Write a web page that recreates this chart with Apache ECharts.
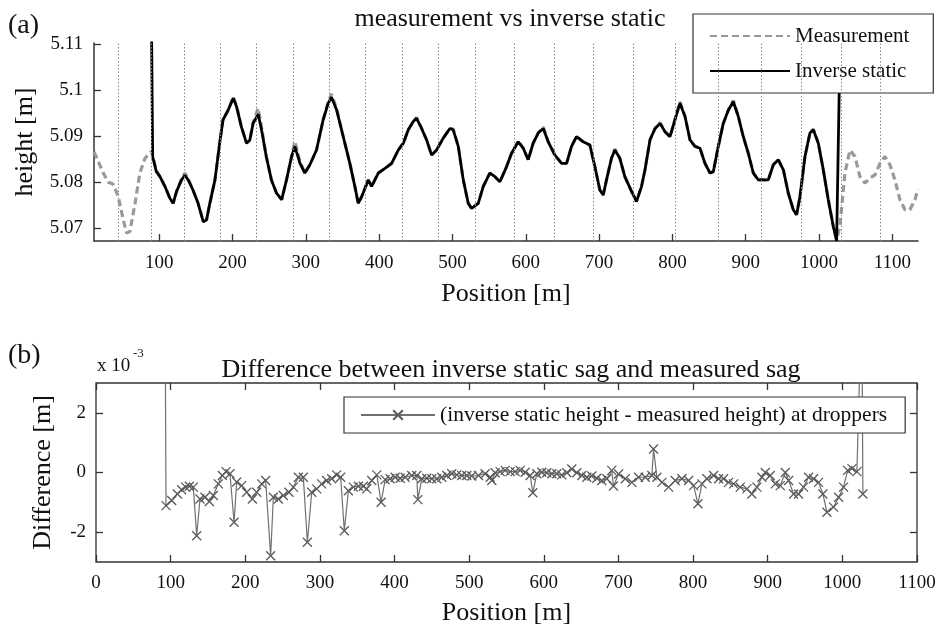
<!DOCTYPE html>
<html>
<head>
<meta charset="utf-8">
<script src="https://cdn.jsdelivr.net/npm/echarts@6/dist/echarts.min.js"></script>
<style>html,body{margin:0;padding:0;background:#fff}#c{width:940px;height:632px}</style>
</head>
<body>
<div id="c"></div>
<script>
// ---------- data (panel a) ----------
const measPos = [11,17,23.6,30.5,37,44,51,55.5,60,67,73.6,80.5,89.5,
96,101,107.7,114.5,119,123.6,130.5,135,139.5,146,153,160,164.5,169,176,183,187,194,201,205.5,212,219,223.6,228,235,239.5,246,253,260,267,273.6,280.5,285,292,298.6,305.5,314.5,323.6,330.5,335,342,351,360,366.8,371.4,376,385,389.7,398.8,407.9,417,426,433,439.7,446.5,451,457.9,464.7,471.5,478.3,487.4,496.5,501,507.9,514.7,521.5,526,535.1,542,551,557.9,564.7,573.8,580.6,589.7,596.5,603.3,610.1,616.9,623.8,630.6,639.7,648.8,655.6,662.4,669.2,678.3,687.4,694.2,701,705.6,710.1,716.9,721.5,728.3,735.1,744.2,751,757.9,762.6,769.4,776.3,783.1,789.9,796.7,803.5,810.3,817.2,824,830.8,837.6,844.4,851.3,855.8,862.6,869.4,876.3,883.1,889.9,896.7,903.5,910.3,917.2,924,930.8,937.6,944.4,951.3,958.1,964.9,969.4,974,980.8,987.6,992.2,999,1005.8,1012.6,1019.4,1024,
1028.5,1035.3,1042.2,1049,1055.8,1062.6,1069.4,1076.3,1083.1,1089.9,1096.7,1103.5,1110.3,1117.2,1124,1130.8,1135];
const measHeight = [5.0866,5.0845,5.0820,5.0800,5.0796,5.0769,5.0718,5.0689,5.0693,5.0754,5.0820,5.0852,5.0867,
5.0826,5.0812,5.0791,5.0765,5.0754,5.0780,5.0808,5.0820,5.0807,5.0783,5.0754,5.0714,5.0718,5.0754,5.0805,5.0892,5.0936,5.0957,5.0986,5.0966,5.0921,5.0885,5.0892,5.0930,5.0961,5.0920,5.0856,5.0805,5.0776,5.0762,5.0805,5.0856,5.0889,5.0845,5.0820,5.0838,5.0870,5.0936,5.0975,5.0992,5.0960,5.0899,5.0841,5.0791,5.0754,5.0768,5.0805,5.0791,5.0820,5.0830,5.0841,5.0870,5.0885,5.0914,5.0932,5.0941,5.0917,5.0892,5.0859,5.0870,5.0896,5.0917,5.0916,5.0878,5.0805,5.0754,5.0743,5.0754,5.0791,5.0820,5.0812,5.0801,5.0834,5.0863,5.0890,5.0874,5.0849,5.0885,5.0907,5.0920,5.0888,5.0859,5.0841,5.0841,5.0878,5.0900,5.0888,5.0881,5.0834,5.0783,5.0772,5.0805,5.0852,5.0872,5.0852,5.0812,5.0780,5.0758,5.0791,5.0827,5.0892,5.0917,5.0930,5.0910,5.0899,5.0936,5.0975,5.0943,5.0892,5.0878,5.0874,5.0841,5.0820,5.0823,5.0878,5.0928,5.0957,5.0978,5.0943,5.0899,5.0863,5.0820,5.0805,5.0805,5.0805,5.0838,5.0849,5.0827,5.0776,5.0740,5.0729,5.0769,5.0856,5.0907,5.0916,5.0885,5.0827,5.0762,5.0704,5.0675,
5.0704,5.0820,5.0870,5.0856,5.0812,5.0798,5.0809,5.0816,5.0841,5.0856,5.0838,5.0805,5.0762,5.0740,5.0740,5.0762,5.0785];

const invPos = [88.6,91,96,101,107.7,114.5,119,123.6,130.5,135,139.5,146,153,160,164.5,169,176,183,187,194,201,205.5,212,219,223.6,228,235,239.5,246,253,260,267,273.6,280.5,285,292,298.6,305.5,314.5,323.6,330.5,335,342,351,360,366.8,371.4,376,385,389.7,398.8,407.9,417,426,433,439.7,446.5,451,457.9,464.7,471.5,478.3,487.4,496.5,501,507.9,514.7,521.5,526,535.1,542,551,557.9,564.7,573.8,580.6,589.7,596.5,603.3,610.1,616.9,623.8,630.6,639.7,648.8,655.6,662.4,669.2,678.3,687.4,694.2,701,705.6,710.1,716.9,721.5,728.3,735.1,744.2,751,757.9,762.6,769.4,776.3,783.1,789.9,796.7,803.5,810.3,817.2,824,830.8,837.6,844.4,851.3,855.8,862.6,869.4,876.3,883.1,889.9,896.7,903.5,910.3,917.2,924,930.8,937.6,944.4,951.3,958.1,964.9,969.4,974,980.8,987.6,992.2,999,1005.8,1012.6,1019.4,1024,1030.8];
const invHeight = [5.13,5.0856,5.0823,5.0812,5.0791,5.0765,5.0754,5.0780,5.0805,5.0815,5.0805,5.0783,5.0754,5.0714,5.0718,5.0754,5.0805,5.0892,5.0936,5.0957,5.0983,5.0964,5.0921,5.0885,5.0892,5.0928,5.0948,5.0914,5.0856,5.0805,5.0776,5.0762,5.0805,5.0856,5.0878,5.0841,5.0820,5.0838,5.0870,5.0936,5.0972,5.0985,5.0957,5.0899,5.0841,5.0791,5.0754,5.0768,5.0805,5.0791,5.0820,5.0830,5.0841,5.0870,5.0885,5.0914,5.0932,5.0939,5.0917,5.0892,5.0859,5.0870,5.0896,5.0917,5.0914,5.0878,5.0805,5.0754,5.0743,5.0754,5.0791,5.0820,5.0812,5.0801,5.0834,5.0863,5.0888,5.0874,5.0849,5.0885,5.0907,5.0917,5.0888,5.0859,5.0841,5.0841,5.0878,5.0899,5.0888,5.0881,5.0834,5.0783,5.0772,5.0805,5.0852,5.0870,5.0852,5.0812,5.0780,5.0758,5.0791,5.0827,5.0892,5.0917,5.0928,5.0910,5.0899,5.0936,5.0972,5.0943,5.0892,5.0878,5.0874,5.0841,5.0820,5.0823,5.0878,5.0928,5.0957,5.0975,5.0943,5.0899,5.0863,5.0820,5.0805,5.0805,5.0805,5.0838,5.0849,5.0827,5.0776,5.0740,5.0729,5.0769,5.0856,5.0907,5.0914,5.0885,5.0827,5.0762,5.0704,5.0672,5.13];

const mastPos = [44,88.6,134,183.6,232.7,282.7,331.4,381.4,431.5,480.6,530.6,583.8,638.3,692,746.5,804.4,862.6,920.8,975.8,1030.8,1083.1];

const topXTicks = [100,200,300,400,500,600,700,800,900,1000,1100];
const topYTicks = [5.07,5.08,5.09,5.1,5.11];

// ---------- data (panel b), difference in 10^-3 m ----------
const dropperPos = [92.5,93.8,101.4,109,114.8,120.1,125,130.4,134.9,139.3,146,151.9,157.2,163.9,169.3,174.2,179.5,185,188.5,195.2,201.9,209.5,215.3,222,227.3,234,237.6,244.3,251,258.6,264.4,271.1,277.8,283.2,289,295.7,302.4,309,315.8,322.5,327.8,332.7,338.1,344.8,351.5,358.2,362.8,369.5,376.2,382,387.4,394,400.8,407.5,414.2,423.1,429.8,431.2,436.5,443.2,449.9,456.6,463.3,470,476.7,483.4,490.1,496.8,503.5,512.5,521.4,528.1,530.3,534.8,541.5,548.2,554.9,561.6,568.3,575,581.7,585.3,590.6,597.3,604,610.7,617.4,624.1,630.8,637.5,644.2,650.9,657.6,664.3,671,677.7,684.4,691,693.3,700.2,709.1,718,727,735.9,744.8,747,751.5,758.2,767.2,776,785,794,800.7,806.5,811.8,818.5,827.5,834.2,840.9,847.5,854.3,863.2,872.1,878.8,885.5,892.2,896.7,903.4,910.1,916.8,923.5,928,934.7,941.3,948,954.7,961.4,968.1,973.9,979.3,988.2,995,1001.6,1007,1012.8,1019.5,1026,1027.5];
const diffValues = [6,-1.11,-0.94,-0.72,-0.58,-0.49,-0.46,-0.49,-2.12,-0.89,-0.83,-0.97,-0.77,-0.38,-0.10,0.03,-0.04,-1.67,-0.32,-0.44,-0.66,-0.89,-0.66,-0.38,-0.27,-2.79,-0.83,-0.89,-0.77,-0.66,-0.49,-0.16,-0.16,-2.34,-0.66,-0.55,-0.38,-0.27,-0.21,-0.08,-0.16,-1.95,-0.61,-0.49,-0.46,-0.46,-0.55,-0.27,-0.08,-1.0,-0.24,-0.21,-0.16,-0.19,-0.16,-0.10,-0.10,-0.91,-0.21,-0.19,-0.21,-0.21,-0.16,-0.10,-0.04,-0.08,-0.10,-0.10,-0.12,-0.10,-0.04,-0.16,-0.27,-0.01,0.03,0.07,0.03,0.03,0.07,0.01,-0.10,-0.68,-0.04,0.01,-0.01,-0.04,-0.04,-0.08,-0.01,0.12,-0.01,-0.10,-0.16,-0.12,-0.19,-0.27,-0.21,0.07,-0.45,-0.05,-0.21,-0.33,-0.16,-0.16,-0.10,0.79,-0.16,-0.33,-0.49,-0.27,-0.21,-0.27,-0.44,-1.05,-0.38,-0.21,-0.10,-0.21,-0.21,-0.33,-0.38,-0.49,-0.55,-0.72,-0.49,-0.16,0.0,-0.10,-0.38,-0.44,0.0,-0.27,-0.72,-0.72,-0.49,-0.16,-0.21,-0.33,-0.72,-1.33,-1.16,-0.83,-0.49,0.07,0.13,0.03,6,-0.72];
const bottomYTicks = [-2,0,2];

// ---------- chart ----------
const FONT = '"Liberation Serif","DejaVu Serif",serif';
const AX = '#333';
const crossPath = 'path://M0,0L10,10M10,0L0,10';
const plain = v => String(+(+v).toFixed(3));

const chart = echarts.init(document.getElementById('c'), null, {renderer: 'canvas'});
const option = {
  animation: false,
  backgroundColor: '#fff',
  textStyle: {fontFamily: FONT, color: '#111'},
  title: [
    {text: 'measurement vs inverse static', left: 505, top: 1, textAlign: 'center',
     textStyle: {fontFamily: FONT, fontSize: 26, fontWeight: 'normal', color: '#111'}},
    {text: 'Difference between inverse static sag and measured sag', left: 506, top: 352, textAlign: 'center',
     textStyle: {fontFamily: FONT, fontSize: 26, fontWeight: 'normal', color: '#111'}}
  ],
  graphic: [
    {type: 'text', left: 8, top: 12, style: {text: '(a)', font: '28px ' + FONT, fill: '#111'}},
    {type: 'text', left: 8, top: 342, style: {text: '(b)', font: '28px ' + FONT, fill: '#111'}},
    {type: 'text', left: 97, top: 357, style: {text: 'x 10', font: '19px ' + FONT, fill: '#111'}},
    {type: 'text', left: 133, top: 347, style: {text: '-3', font: '13px ' + FONT, fill: '#111'}}
  ],
  legend: [
    {data: ['Measurement', 'Inverse static'],
     orient: 'vertical', left: 693, top: 14,
     itemWidth: 80, itemHeight: 14, itemGap: 11, padding: [10, 24, 10, 16],
     itemStyle: {color: 'rgba(0,0,0,0)', borderWidth: 0, opacity: 0},
     backgroundColor: '#fff', borderColor: '#333', borderWidth: 1.2, borderRadius: 0,
     textStyle: {fontFamily: FONT, fontSize: 21, color: '#111', lineHeight: 24}},
    {data: ['(inverse static height - measured height) at droppers'], left: 344, top: 397,
     itemWidth: 74, itemHeight: 12, padding: [6, 18, 6, 16],
     backgroundColor: '#fff', borderColor: '#333', borderWidth: 1.2, borderRadius: 0,
     textStyle: {fontFamily: FONT, fontSize: 21.5, color: '#111', lineHeight: 24}}
  ],
  grid: [
    {left: 94, top: 43, width: 824, height: 198, show: false},
    {left: 96, top: 383, width: 821, height: 179, show: true, borderColor: AX, borderWidth: 1.3, backgroundColor: 'transparent'}
  ],
  xAxis: [
    {type: 'value', gridIndex: 0, min: 11, max: 1135,
     name: 'Position [m]', nameLocation: 'middle', nameGap: 40,
     nameTextStyle: {fontFamily: FONT, fontSize: 26, color: '#111'},
     axisLine: {show: true, onZero: false, lineStyle: {color: AX, width: 1.5}},
     axisTick: {show: true, inside: true, length: 7, customValues: topXTicks, lineStyle: {color: AX, width: 1.3}},
     axisLabel: {customValues: topXTicks, formatter: plain, fontFamily: FONT, fontSize: 19, color: '#111', margin: 13},
     splitLine: {show: false}},
    {type: 'value', gridIndex: 1, min: 0, max: 1100, interval: 100,
     name: 'Position [m]', nameLocation: 'middle', nameGap: 38,
     nameTextStyle: {fontFamily: FONT, fontSize: 26, color: '#111'},
     axisLine: {show: false, onZero: false},
     axisTick: {show: true, inside: true, length: 7, lineStyle: {color: AX, width: 1.3}},
     axisLabel: {formatter: plain, fontFamily: FONT, fontSize: 19, color: '#111', margin: 12, showMinLabel: true, showMaxLabel: true},
     splitLine: {show: false}},
    {type: 'value', gridIndex: 1, min: 0, max: 1100, interval: 100, position: 'top',
     axisLine: {show: false, onZero: false},
     axisTick: {show: true, inside: true, length: 7, lineStyle: {color: AX, width: 1.3}},
     axisLabel: {show: false}, splitLine: {show: false}}
  ],
  yAxis: [
    {type: 'value', gridIndex: 0, min: 5.0672, max: 5.1103,
     name: 'height [m]', nameLocation: 'middle', nameGap: 56, nameRotate: 90,
     nameTextStyle: {fontFamily: FONT, fontSize: 26, color: '#111'},
     axisLine: {show: true, onZero: false, lineStyle: {color: AX, width: 1.5}},
     axisTick: {show: true, inside: true, length: 7, customValues: topYTicks, lineStyle: {color: AX, width: 1.3}},
     axisLabel: {customValues: topYTicks, fontFamily: FONT, fontSize: 19, color: '#111', margin: 11, formatter: plain},
     splitLine: {show: false}},
    {type: 'value', gridIndex: 1, min: -3, max: 3,
     name: 'Difference [m]', nameLocation: 'middle', nameGap: 40, nameRotate: 90,
     nameTextStyle: {fontFamily: FONT, fontSize: 26, color: '#111'},
     axisLine: {show: false, onZero: false},
     axisTick: {show: true, inside: true, length: 7, customValues: bottomYTicks, lineStyle: {color: AX, width: 1.3}},
     axisLabel: {customValues: bottomYTicks, fontFamily: FONT, fontSize: 19, color: '#111', margin: 10},
     splitLine: {show: false}},
    {type: 'value', gridIndex: 1, min: -3, max: 3, position: 'right',
     axisLine: {show: false, onZero: false},
     axisTick: {show: true, inside: true, length: 7, customValues: bottomYTicks, lineStyle: {color: AX, width: 1.3}},
     axisLabel: {show: false}, splitLine: {show: false}}
  ],
  series: [
    {name: 'masts', type: 'line', xAxisIndex: 0, yAxisIndex: 0, data: [], z: 1, silent: true,
     markLine: {silent: true, symbol: ['none', 'none'], animation: false,
       label: {show: false},
       lineStyle: {type: [1.5, 2], color: '#888', width: 1},
       emphasis: {disabled: true},
       data: mastPos.map(x => ({xAxis: x}))}},
    {name: 'Measurement', type: 'line', xAxisIndex: 0, yAxisIndex: 0, z: 2,
     data: measPos.map((x, i) => [x, measHeight[i]]),
     showSymbol: false, symbol: 'none', clip: true,
     lineStyle: {color: '#999', width: 3.2, type: [7, 4]},
     itemStyle: {color: '#999'}},
    {name: 'Inverse static', type: 'line', xAxisIndex: 0, yAxisIndex: 0, z: 3,
     data: invPos.map((x, i) => [x, invHeight[i]]),
     showSymbol: false, symbol: 'none', clip: true,
     lineStyle: {color: '#000', width: 2.8},
     itemStyle: {color: '#000'}},
    {name: '(inverse static height - measured height) at droppers', type: 'line', xAxisIndex: 1, yAxisIndex: 1, z: 3,
     data: dropperPos.map((x, i) => [x, diffValues[i]]),
     symbol: crossPath, symbolSize: 9, showSymbol: true, clip: true,
     lineStyle: {color: '#707070', width: 1.2},
     itemStyle: {color: 'rgba(0,0,0,0)', borderColor: '#5a5a5a', borderWidth: 1.3}}
  ]
};
chart.setOption(option);
</script>
</body>
</html>
